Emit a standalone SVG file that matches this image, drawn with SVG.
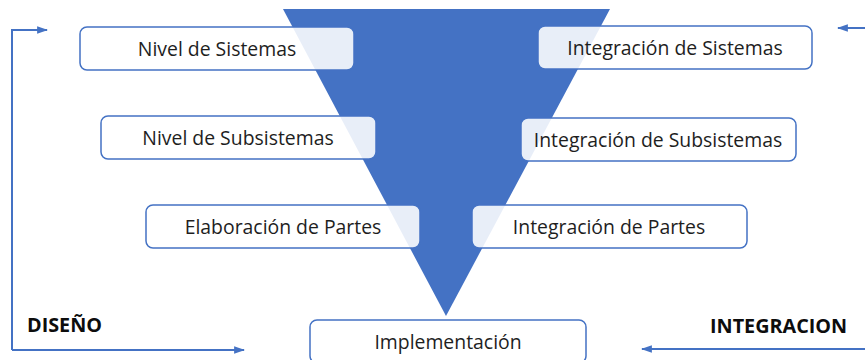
<svg xmlns="http://www.w3.org/2000/svg" width="865" height="360" viewBox="0 0 865 360">
<style>
.box{fill:#ffffff;fill-opacity:0.88;stroke:#4472C4;stroke-width:1.5}
.lbl{font-family:"Open Sans","Noto Sans",sans-serif;font-size:19.4px;fill:#1e1e1e;text-anchor:middle;dominant-baseline:central}
.big{font-family:"Open Sans","Noto Sans",sans-serif;font-size:19.8px;font-weight:bold;fill:#0d0d0d}
.con{fill:none;stroke:#4472C4;stroke-width:2}
</style>
<defs>
<marker id="ah" viewBox="0 0 10 10" refX="9" refY="5" markerWidth="5.5" markerHeight="5.5" orient="auto" markerUnits="strokeWidth">
<path d="M0,1.5 L10,5 L0,8.5 z" fill="#4472C4"/>
</marker>
</defs>
<rect width="865" height="360" fill="#ffffff"/>
<polygon id="triangle" points="283,9 610,9 446,316" fill="#4472C4"/>
<g id="connectors">
<polyline class="con" points="12,350 12,30 47,30" marker-end="url(#ah)"/>
<polyline class="con" points="12,350 244,350" marker-end="url(#ah)"/>
<line class="con" x1="865" y1="28" x2="838" y2="28" marker-end="url(#ah)"/>
<line class="con" x1="865" y1="349" x2="642" y2="349" marker-end="url(#ah)"/>
</g>
<g id="n1"><rect class="box" x="80" y="27" width="274" height="43" rx="7"/><text class="lbl" x="217" y="48.5">Nivel de Sistemas</text></g>
<g id="n2"><rect class="box" x="101" y="116" width="275" height="43" rx="7"/><text class="lbl" x="238" y="137.5">Nivel de Subsistemas</text></g>
<g id="n3"><rect class="box" x="146" y="205" width="274" height="43" rx="7"/><text class="lbl" x="283" y="226.5">Elaboración de Partes</text></g>
<g id="n4"><rect class="box" x="310" y="320" width="276" height="43" rx="7"/><text class="lbl" x="448" y="341.5">Implementación</text></g>
<g id="n5"><rect class="box" x="538" y="26" width="274" height="43" rx="7"/><text class="lbl" x="675" y="47.5">Integración de Sistemas</text></g>
<g id="n6"><rect class="box" x="521" y="118" width="275" height="43" rx="7"/><text class="lbl" x="658" y="139.5">Integración de Subsistemas</text></g>
<g id="n7"><rect class="box" x="472" y="205" width="275" height="43" rx="7"/><text class="lbl" x="609" y="226.5">Integración de Partes</text></g>
<text class="big" x="27" y="332">DISEÑO</text>
<text class="big" x="710" y="333">INTEGRACION</text>
</svg>
